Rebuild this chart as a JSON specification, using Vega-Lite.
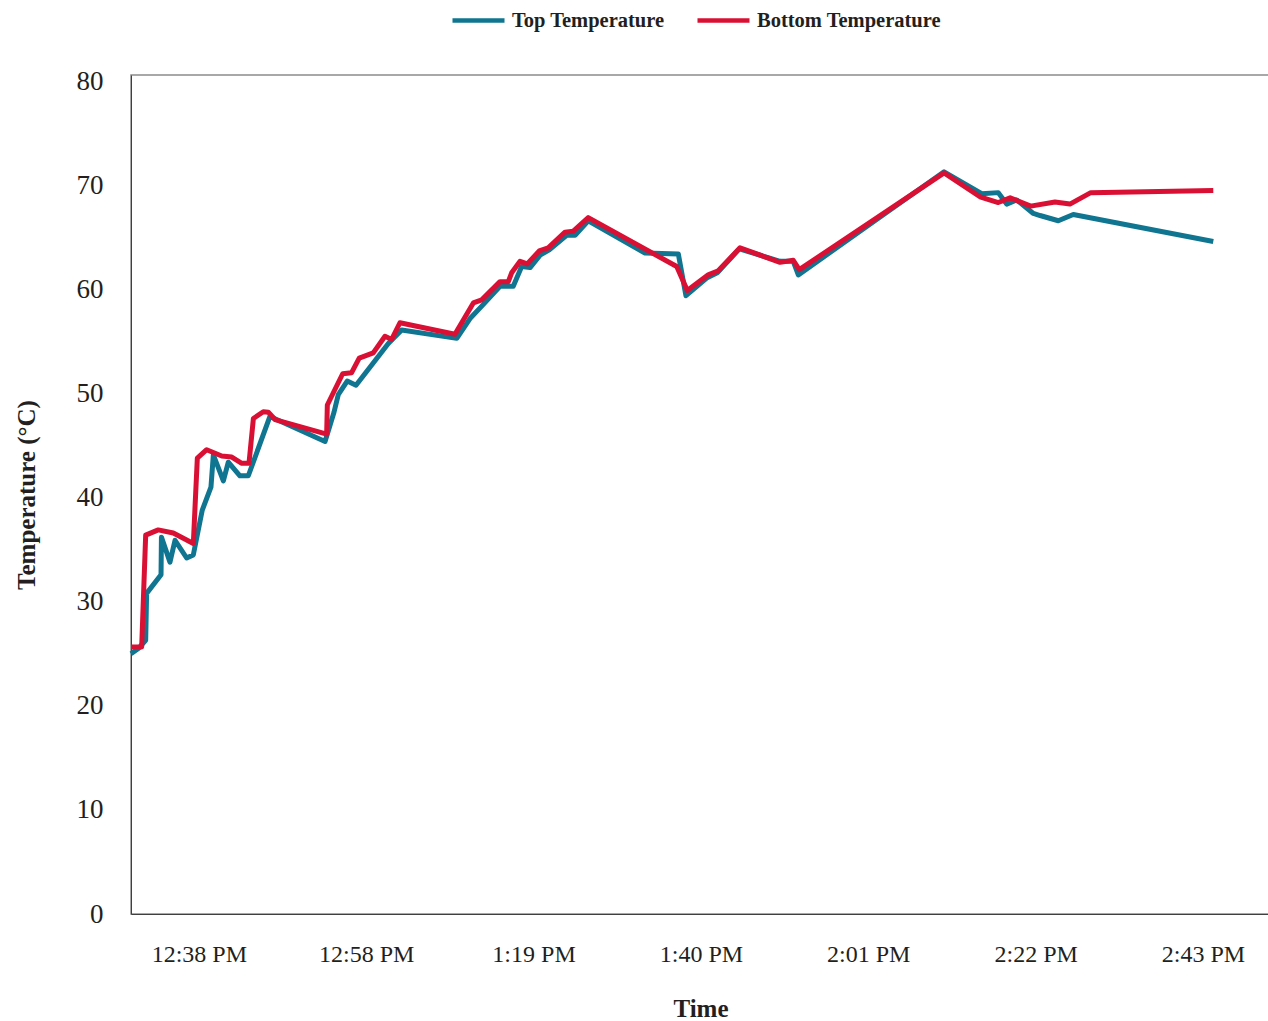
{
  "$schema": "https://vega.github.io/schema/vega-lite/v6.json",
  "width": 1139,
  "height": 839,
  "autosize": {"type": "none"},
  "padding": {"left": 131, "top": 75, "right": 0, "bottom": 107},
  "background": "white",
  "config": {"font": "Liberation Serif", "view": {"stroke": "#8c8c8c", "strokeWidth": 1.5}},
  "data": {"values": [
    {"time": "2020-01-01T12:29:32Z", "series": "Top Temperature", "temperature": 25.0},
    {"time": "2020-01-01T12:30:27Z", "series": "Top Temperature", "temperature": 25.5},
    {"time": "2020-01-01T12:31:22Z", "series": "Top Temperature", "temperature": 26.3},
    {"time": "2020-01-01T12:31:29Z", "series": "Top Temperature", "temperature": 30.8},
    {"time": "2020-01-01T12:33:17Z", "series": "Top Temperature", "temperature": 32.6},
    {"time": "2020-01-01T12:33:20Z", "series": "Top Temperature", "temperature": 36.2},
    {"time": "2020-01-01T12:34:24Z", "series": "Top Temperature", "temperature": 33.8},
    {"time": "2020-01-01T12:35:02Z", "series": "Top Temperature", "temperature": 35.9},
    {"time": "2020-01-01T12:36:29Z", "series": "Top Temperature", "temperature": 34.2},
    {"time": "2020-01-01T12:37:19Z", "series": "Top Temperature", "temperature": 34.5},
    {"time": "2020-01-01T12:38:26Z", "series": "Top Temperature", "temperature": 38.8},
    {"time": "2020-01-01T12:39:31Z", "series": "Top Temperature", "temperature": 41.0},
    {"time": "2020-01-01T12:39:49Z", "series": "Top Temperature", "temperature": 44.1},
    {"time": "2020-01-01T12:41:04Z", "series": "Top Temperature", "temperature": 41.6},
    {"time": "2020-01-01T12:41:41Z", "series": "Top Temperature", "temperature": 43.4},
    {"time": "2020-01-01T12:43:08Z", "series": "Top Temperature", "temperature": 42.1},
    {"time": "2020-01-01T12:44:11Z", "series": "Top Temperature", "temperature": 42.1},
    {"time": "2020-01-01T12:46:53Z", "series": "Top Temperature", "temperature": 47.8},
    {"time": "2020-01-01T12:53:46Z", "series": "Top Temperature", "temperature": 45.4},
    {"time": "2020-01-01T12:54:53Z", "series": "Top Temperature", "temperature": 48.2},
    {"time": "2020-01-01T12:55:25Z", "series": "Top Temperature", "temperature": 49.9},
    {"time": "2020-01-01T12:56:32Z", "series": "Top Temperature", "temperature": 51.2},
    {"time": "2020-01-01T12:57:38Z", "series": "Top Temperature", "temperature": 50.8},
    {"time": "2020-01-01T13:01:40Z", "series": "Top Temperature", "temperature": 54.8},
    {"time": "2020-01-01T13:03:20Z", "series": "Top Temperature", "temperature": 56.1},
    {"time": "2020-01-01T13:10:13Z", "series": "Top Temperature", "temperature": 55.3},
    {"time": "2020-01-01T13:11:52Z", "series": "Top Temperature", "temperature": 57.2},
    {"time": "2020-01-01T13:13:20Z", "series": "Top Temperature", "temperature": 58.4},
    {"time": "2020-01-01T13:15:37Z", "series": "Top Temperature", "temperature": 60.3},
    {"time": "2020-01-01T13:17:16Z", "series": "Top Temperature", "temperature": 60.3},
    {"time": "2020-01-01T13:18:19Z", "series": "Top Temperature", "temperature": 62.2},
    {"time": "2020-01-01T13:19:22Z", "series": "Top Temperature", "temperature": 62.1},
    {"time": "2020-01-01T13:20:37Z", "series": "Top Temperature", "temperature": 63.3},
    {"time": "2020-01-01T13:21:46Z", "series": "Top Temperature", "temperature": 63.8},
    {"time": "2020-01-01T13:23:56Z", "series": "Top Temperature", "temperature": 65.2},
    {"time": "2020-01-01T13:24:59Z", "series": "Top Temperature", "temperature": 65.2},
    {"time": "2020-01-01T13:26:38Z", "series": "Top Temperature", "temperature": 66.6},
    {"time": "2020-01-01T13:33:43Z", "series": "Top Temperature", "temperature": 63.5},
    {"time": "2020-01-01T13:37:53Z", "series": "Top Temperature", "temperature": 63.4},
    {"time": "2020-01-01T13:38:50Z", "series": "Top Temperature", "temperature": 59.4},
    {"time": "2020-01-01T13:41:25Z", "series": "Top Temperature", "temperature": 61.1},
    {"time": "2020-01-01T13:42:45Z", "series": "Top Temperature", "temperature": 61.6},
    {"time": "2020-01-01T13:45:30Z", "series": "Top Temperature", "temperature": 63.9},
    {"time": "2020-01-01T13:50:35Z", "series": "Top Temperature", "temperature": 62.7},
    {"time": "2020-01-01T13:52:14Z", "series": "Top Temperature", "temperature": 62.7},
    {"time": "2020-01-01T13:52:52Z", "series": "Top Temperature", "temperature": 61.4},
    {"time": "2020-01-01T14:11:04Z", "series": "Top Temperature", "temperature": 71.3},
    {"time": "2020-01-01T14:15:46Z", "series": "Top Temperature", "temperature": 69.2},
    {"time": "2020-01-01T14:17:50Z", "series": "Top Temperature", "temperature": 69.3},
    {"time": "2020-01-01T14:18:53Z", "series": "Top Temperature", "temperature": 68.2},
    {"time": "2020-01-01T14:20:08Z", "series": "Top Temperature", "temperature": 68.6},
    {"time": "2020-01-01T14:22:13Z", "series": "Top Temperature", "temperature": 67.3},
    {"time": "2020-01-01T14:23:03Z", "series": "Top Temperature", "temperature": 67.1},
    {"time": "2020-01-01T14:25:20Z", "series": "Top Temperature", "temperature": 66.6},
    {"time": "2020-01-01T14:27:12Z", "series": "Top Temperature", "temperature": 67.2},
    {"time": "2020-01-01T14:44:41Z", "series": "Top Temperature", "temperature": 64.6},
    {"time": "2020-01-01T12:29:32Z", "series": "Bottom Temperature", "temperature": 25.65},
    {"time": "2020-01-01T12:30:52Z", "series": "Bottom Temperature", "temperature": 25.65},
    {"time": "2020-01-01T12:31:22Z", "series": "Bottom Temperature", "temperature": 36.4},
    {"time": "2020-01-01T12:32:56Z", "series": "Bottom Temperature", "temperature": 36.9},
    {"time": "2020-01-01T12:34:49Z", "series": "Bottom Temperature", "temperature": 36.6},
    {"time": "2020-01-01T12:37:19Z", "series": "Bottom Temperature", "temperature": 35.6},
    {"time": "2020-01-01T12:37:49Z", "series": "Bottom Temperature", "temperature": 43.8},
    {"time": "2020-01-01T12:38:59Z", "series": "Bottom Temperature", "temperature": 44.6},
    {"time": "2020-01-01T12:40:52Z", "series": "Bottom Temperature", "temperature": 44.0},
    {"time": "2020-01-01T12:42:07Z", "series": "Bottom Temperature", "temperature": 43.9},
    {"time": "2020-01-01T12:43:22Z", "series": "Bottom Temperature", "temperature": 43.3},
    {"time": "2020-01-01T12:44:16Z", "series": "Bottom Temperature", "temperature": 43.3},
    {"time": "2020-01-01T12:44:49Z", "series": "Bottom Temperature", "temperature": 47.6},
    {"time": "2020-01-01T12:46:03Z", "series": "Bottom Temperature", "temperature": 48.25},
    {"time": "2020-01-01T12:46:41Z", "series": "Bottom Temperature", "temperature": 48.2},
    {"time": "2020-01-01T12:47:31Z", "series": "Bottom Temperature", "temperature": 47.5},
    {"time": "2020-01-01T12:53:58Z", "series": "Bottom Temperature", "temperature": 46.1},
    {"time": "2020-01-01T12:54:03Z", "series": "Bottom Temperature", "temperature": 48.9},
    {"time": "2020-01-01T12:55:58Z", "series": "Bottom Temperature", "temperature": 51.9},
    {"time": "2020-01-01T12:57:05Z", "series": "Bottom Temperature", "temperature": 52.0},
    {"time": "2020-01-01T12:58:02Z", "series": "Bottom Temperature", "temperature": 53.4},
    {"time": "2020-01-01T12:59:47Z", "series": "Bottom Temperature", "temperature": 53.9},
    {"time": "2020-01-01T13:01:15Z", "series": "Bottom Temperature", "temperature": 55.5},
    {"time": "2020-01-01T13:02:05Z", "series": "Bottom Temperature", "temperature": 55.2},
    {"time": "2020-01-01T13:03:07Z", "series": "Bottom Temperature", "temperature": 56.8},
    {"time": "2020-01-01T13:09:59Z", "series": "Bottom Temperature", "temperature": 55.7},
    {"time": "2020-01-01T13:12:17Z", "series": "Bottom Temperature", "temperature": 58.7},
    {"time": "2020-01-01T13:13:20Z", "series": "Bottom Temperature", "temperature": 59.0},
    {"time": "2020-01-01T13:15:37Z", "series": "Bottom Temperature", "temperature": 60.75},
    {"time": "2020-01-01T13:16:39Z", "series": "Bottom Temperature", "temperature": 60.75},
    {"time": "2020-01-01T13:17:04Z", "series": "Bottom Temperature", "temperature": 61.6},
    {"time": "2020-01-01T13:18:07Z", "series": "Bottom Temperature", "temperature": 62.7},
    {"time": "2020-01-01T13:19:01Z", "series": "Bottom Temperature", "temperature": 62.45},
    {"time": "2020-01-01T13:20:31Z", "series": "Bottom Temperature", "temperature": 63.7},
    {"time": "2020-01-01T13:21:38Z", "series": "Bottom Temperature", "temperature": 64.0},
    {"time": "2020-01-01T13:23:44Z", "series": "Bottom Temperature", "temperature": 65.5},
    {"time": "2020-01-01T13:24:46Z", "series": "Bottom Temperature", "temperature": 65.6},
    {"time": "2020-01-01T13:26:38Z", "series": "Bottom Temperature", "temperature": 66.9},
    {"time": "2020-01-01T13:37:41Z", "series": "Bottom Temperature", "temperature": 62.2},
    {"time": "2020-01-01T13:39:00Z", "series": "Bottom Temperature", "temperature": 59.9},
    {"time": "2020-01-01T13:41:37Z", "series": "Bottom Temperature", "temperature": 61.4},
    {"time": "2020-01-01T13:42:52Z", "series": "Bottom Temperature", "temperature": 61.8},
    {"time": "2020-01-01T13:45:35Z", "series": "Bottom Temperature", "temperature": 64.0},
    {"time": "2020-01-01T13:50:35Z", "series": "Bottom Temperature", "temperature": 62.6},
    {"time": "2020-01-01T13:52:14Z", "series": "Bottom Temperature", "temperature": 62.8},
    {"time": "2020-01-01T13:52:59Z", "series": "Bottom Temperature", "temperature": 61.9},
    {"time": "2020-01-01T14:11:04Z", "series": "Bottom Temperature", "temperature": 71.2},
    {"time": "2020-01-01T14:15:33Z", "series": "Bottom Temperature", "temperature": 68.9},
    {"time": "2020-01-01T14:17:50Z", "series": "Bottom Temperature", "temperature": 68.35},
    {"time": "2020-01-01T14:19:19Z", "series": "Bottom Temperature", "temperature": 68.8},
    {"time": "2020-01-01T14:21:53Z", "series": "Bottom Temperature", "temperature": 68.0},
    {"time": "2020-01-01T14:24:55Z", "series": "Bottom Temperature", "temperature": 68.4},
    {"time": "2020-01-01T14:26:47Z", "series": "Bottom Temperature", "temperature": 68.2},
    {"time": "2020-01-01T14:29:23Z", "series": "Bottom Temperature", "temperature": 69.3},
    {"time": "2020-01-01T14:44:41Z", "series": "Bottom Temperature", "temperature": 69.5}
  ]},
  "encoding": {
    "x": {
      "field": "time", "type": "temporal",
      "scale": {"type": "utc", "nice": false, "domain": [
        {"year": 2020, "month": 1, "date": 1, "hours": 12, "minutes": 29, "seconds": 32, "utc": true},
        {"year": 2020, "month": 1, "date": 1, "hours": 14, "minutes": 51, "seconds": 46, "utc": true}
      ]},
      "axis": {
        "title": "Time",
        "values": [
          {"year": 2020, "month": 1, "date": 1, "hours": 12, "minutes": 38, "seconds": 0, "utc": true},
          {"year": 2020, "month": 1, "date": 1, "hours": 12, "minutes": 58, "seconds": 54, "utc": true},
          {"year": 2020, "month": 1, "date": 1, "hours": 13, "minutes": 19, "seconds": 48, "utc": true},
          {"year": 2020, "month": 1, "date": 1, "hours": 13, "minutes": 40, "seconds": 42, "utc": true},
          {"year": 2020, "month": 1, "date": 1, "hours": 14, "minutes": 1, "seconds": 36, "utc": true},
          {"year": 2020, "month": 1, "date": 1, "hours": 14, "minutes": 22, "seconds": 30, "utc": true},
          {"year": 2020, "month": 1, "date": 1, "hours": 14, "minutes": 43, "seconds": 24, "utc": true}
        ],
        "format": "%-I:%M %p",
        "grid": false, "ticks": false, "tickSize": 0,
        "domainColor": "#404040", "domainWidth": 1,
        "labelFontSize": 24, "labelColor": "#231f20", "labelPadding": 28,
        "labelFlush": false, "labelOverlap": false,
        "titleFontSize": 25, "titleFontWeight": "bold", "titleColor": "#231f20",
        "titleBaseline": "alphabetic", "titleY": 102
      }
    },
    "y": {
      "field": "temperature", "type": "quantitative",
      "scale": {"domain": [0, 80.6], "nice": false, "zero": true},
      "axis": {
        "title": "Temperature (°C)",
        "values": [0, 10, 20, 30, 40, 50, 60, 70, 80],
        "grid": false, "ticks": false, "tickSize": 0,
        "domainColor": "#404040", "domainWidth": 1,
        "labelFontSize": 27, "labelColor": "#231f20", "labelPadding": 28,
        "labelFlush": false, "labelOverlap": false,
        "titleFontSize": 25, "titleFontWeight": "bold", "titleColor": "#231f20",
        "titleBaseline": "alphabetic", "titleX": -97
      }
    },
    "color": {
      "field": "series", "type": "nominal",
      "scale": {"domain": ["Top Temperature", "Bottom Temperature"], "range": ["#0f7591", "#d91034"]},
      "legend": {
        "orient": "none", "legendX": 319, "legendY": -83, "direction": "horizontal",
        "title": null, "symbolType": "stroke", "symbolSize": 2704, "symbolStrokeWidth": 4.5,
        "labelFontSize": 20.5, "labelFontWeight": "bold", "labelColor": "#231f20",
        "labelOffset": 5, "columnPadding": 23, "labelLimit": 400
      }
    }
  },
  "layer": [
    {"transform": [{"filter": "datum.series === 'Top Temperature'"}], "mark": {"type": "line", "strokeWidth": 5, "strokeJoin": "round"}},
    {"transform": [{"filter": "datum.series === 'Bottom Temperature'"}], "mark": {"type": "line", "strokeWidth": 5, "strokeJoin": "round"}}
  ]
}
